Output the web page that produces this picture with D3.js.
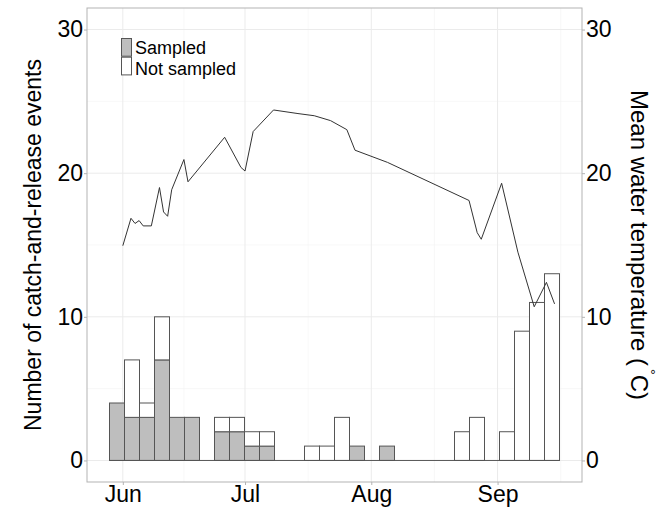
<!DOCTYPE html>
<html><head><meta charset="utf-8">
<script src="https://cdn.jsdelivr.net/npm/d3@7/dist/d3.min.js"></script>
<style>body{margin:0;background:#fff}svg{display:block}text{font-family:"Liberation Sans",Arial,sans-serif;fill:#000}</style>
</head><body><svg id="c" width="660" height="509"></svg>
<script>
// ---- data ----
const binRange = ["2014-05-28T17:30:00", "2014-09-16T05:00:00"]; // histogram extent, 30 bins
const sampled    = [4,3,3,7,3,3,0,2,2,1,1,0,0,0,0,0,1,0,1,0,0,0,0,0,0,0,0,0,0,0];
const notSampled = [0,4,1,3,0,0,0,1,1,1,1,0,0,1,1,3,0,0,0,0,0,0,0,2,3,0,2,9,11,13];
const tempDates = ["2014-06-01","2014-06-03","2014-06-04","2014-06-05","2014-06-06","2014-06-08","2014-06-10","2014-06-11","2014-06-12","2014-06-13","2014-06-16","2014-06-17","2014-06-26","2014-06-30","2014-07-01","2014-07-03","2014-07-08","2014-07-14","2014-07-18","2014-07-22","2014-07-26","2014-07-28","2014-08-05","2014-08-25","2014-08-27","2014-08-28","2014-09-02","2014-09-06","2014-09-10","2014-09-13","2014-09-15"];
const tempValues = [14.95,16.86,16.5,16.7,16.33,16.33,19.0,17.3,17.0,18.85,20.95,19.4,22.5,20.4,20.15,22.9,24.4,24.15,24.0,23.66,23.03,21.6,20.75,18.1,15.86,15.4,19.3,14.5,10.7,12.4,10.9];
const monthTicks = ["2014-06-01","2014-07-01","2014-08-01","2014-09-01"];
const monthLabels = ["Jun","Jul","Aug","Sep"];
const yTicks = [0,10,20,30];
const legendLabels = ["Sampled","Not sampled"];

// ---- layout ----
const svg = d3.select("#c");
const P = {l:87, r:582, t:8, b:482};
const b0 = new Date(binRange[0]), b1 = new Date(binRange[1]);
const span = b1 - b0, pad = span*0.05;
const x = d3.scaleTime().domain([new Date(+b0 - pad), new Date(+b1 + pad)]).range([P.l, P.r]);
const y = d3.scaleLinear().domain([-1.5, 31.5]).range([P.b, P.t]);
const nb = sampled.length, bw = span/nb;
const bins = sampled.map((s,i)=>({x0:new Date(+b0+i*bw), x1:new Date(+b0+(i+1)*bw), s, n:notSampled[i]}));

// grid
const g = svg.append("g");
const minorX = [];
const mt = monthTicks.map(d=>new Date(d));
for (let i=0;i<mt.length;i++){
  const a = mt[i], b = i<mt.length-1 ? mt[i+1] : new Date(+mt[i] + (mt[i]-mt[i-1]));
  minorX.push(new Date((+a + +b)/2));
}
g.selectAll(".mx").data(minorX).join("line").attr("x1",d=>x(d)).attr("x2",d=>x(d)).attr("y1",P.t).attr("y2",P.b).attr("stroke","#f4f4f4").attr("stroke-width",0.6);
g.selectAll(".my").data([5,15,25]).join("line").attr("x1",P.l).attr("x2",P.r).attr("y1",d=>y(d)).attr("y2",d=>y(d)).attr("stroke","#f4f4f4").attr("stroke-width",0.6);
g.selectAll(".Mx").data(mt).join("line").attr("x1",d=>x(d)).attr("x2",d=>x(d)).attr("y1",P.t).attr("y2",P.b).attr("stroke","#ebebeb").attr("stroke-width",1);
g.selectAll(".My").data(yTicks).join("line").attr("x1",P.l).attr("x2",P.r).attr("y1",d=>y(d)).attr("y2",d=>y(d)).attr("stroke","#ebebeb").attr("stroke-width",1);

// bars
const bars = svg.append("g").attr("stroke","#555").attr("stroke-width",1);
bins.filter(d=>d.s>0).forEach(d=>{
  bars.append("rect").attr("x",x(d.x0)).attr("width",x(d.x1)-x(d.x0)).attr("y",y(d.s)).attr("height",y(0)-y(d.s)).attr("fill","#bebebe");
});
bins.filter(d=>d.n>0).forEach(d=>{
  bars.append("rect").attr("x",x(d.x0)).attr("width",x(d.x1)-x(d.x0)).attr("y",y(d.s+d.n)).attr("height",y(d.s)-y(d.s+d.n)).attr("fill","#fff");
});
// baseline
svg.append("line").attr("x1",x(b0)).attr("x2",x(b1)).attr("y1",y(0)).attr("y2",y(0)).attr("stroke","#555").attr("stroke-width",1);

// temperature line
const pts = tempDates.map((d,i)=>[new Date(d+"T00:00:00"), tempValues[i]]);
svg.append("path").datum(pts).attr("fill","none").attr("stroke","#333").attr("stroke-width",1)
  .attr("d", d3.line().x(d=>x(d[0])).y(d=>y(d[1])));

// panel border
svg.append("rect").attr("x",P.l).attr("y",P.t).attr("width",P.r-P.l).attr("height",P.b-P.t).attr("fill","none").attr("stroke","#b3b3b3").attr("stroke-width",1);

// axes
const fs = 23;
const axL = svg.append("g").attr("transform",`translate(${P.l},0)`).call(d3.axisLeft(y).tickValues(yTicks).tickSize(3).tickPadding(1));
const axR = svg.append("g").attr("transform",`translate(${P.r},0)`).call(d3.axisRight(y).tickValues(yTicks).tickSize(3).tickPadding(1));
const axB = svg.append("g").attr("transform",`translate(0,${P.b})`).call(d3.axisBottom(x).tickValues(mt).tickFormat((d,i)=>monthLabels[i]).tickSize(3).tickPadding(1));
[axL,axR,axB].forEach(a=>{
  a.select(".domain").remove();
  a.selectAll(".tick line").attr("stroke","#b3b3b3");
  a.selectAll(".tick text").attr("font-size",fs).attr("font-family","Liberation Sans, Arial, sans-serif").attr("fill","#000");
});

// titles
svg.append("text").attr("transform",`translate(33,${(P.t+P.b)/2}) rotate(-90)`).attr("text-anchor","middle").attr("dominant-baseline","central").attr("font-size",fs).text("Number of catch-and-release events");
const rt = svg.append("text").attr("transform",`translate(640,${(P.t+P.b)/2}) rotate(90)`).attr("text-anchor","middle").attr("dominant-baseline","central").attr("font-size",24);
rt.append("tspan").text("Mean water temperature (");
rt.append("tspan").attr("font-size",14).attr("dy",-10).attr("dx",3).text("\u00B0");
rt.append("tspan").attr("dy",10).text("C)");

// legend
const lg = svg.append("g");
const lfill = ["#bebebe","#fff"];
legendLabels.forEach((t,i)=>{
  lg.append("rect").attr("x",121.5).attr("y",38.5+i*18.7).attr("width",10).attr("height",17.7).attr("fill",lfill[i]).attr("stroke","#555").attr("stroke-width",1);
  lg.append("text").attr("x",135).attr("y",54.3+i*20.4).attr("font-size",18).text(t);
});
</script></body></html>
